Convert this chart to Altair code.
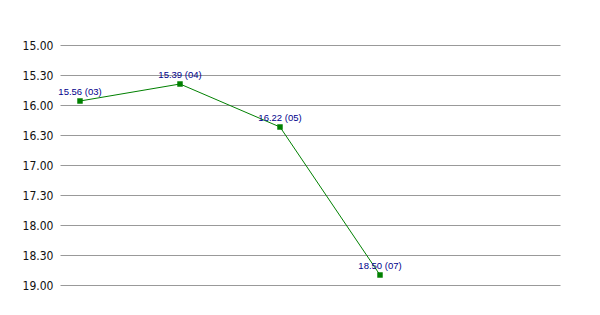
import altair as alt
import pandas as pd

codes = ["03", "04", "05", "07"]
times = ["15.56", "15.39", "16.22", "18.50"]  # minutes.seconds

secs = [int(t.split(".")[0]) * 60 + int(t.split(".")[1]) for t in times]
df = pd.DataFrame({
    "idx": list(range(len(codes))),
    "secs": secs,
    "label": [f"{t} ({c})" for t, c in zip(times, codes)],
})

x = alt.X("idx:Q", scale=alt.Scale(domain=[-0.2, 4.8], nice=False, zero=False), axis=None)
y = alt.Y(
    "secs:Q",
    scale=alt.Scale(domain=[900, 1140], reverse=True, nice=False, zero=False),
    axis=alt.Axis(
        title=None,
        values=list(range(900, 1141, 30)),
        labelExpr="floor(datum.value/60) + '.' + (datum.value % 60 < 10 ? '0' : '') + (datum.value % 60)",
        domain=False,
        ticks=False,
        grid=True,
        gridColor="#999999",
        gridWidth=1,
        labelFont="DejaVu Sans Condensed, Liberation Sans Narrow, sans-serif",
        labelFontSize=12,
        labelColor="#111111",
        labelPadding=7,
    ),
)

base = alt.Chart(df).encode(x=x, y=y)
line = base.mark_line(color="#008000", strokeWidth=1)
pts = base.mark_square(color="#008000", size=30, opacity=1)
txt = base.mark_text(
    color="#00008b", fontSize=9.5, font="Liberation Sans",
    baseline="bottom", dy=-4, align="center"
).encode(text="label:N")

chart = (line + pts + txt).properties(
    width=500, height=240,
    autosize=alt.AutoSizeParams(type="none"),
    padding={"left": 60, "top": 45, "right": 40, "bottom": 30},
    background="white",
).configure_view(stroke=None)

chart.save("out.html", embed_options={"renderer": "svg", "actions": False})
